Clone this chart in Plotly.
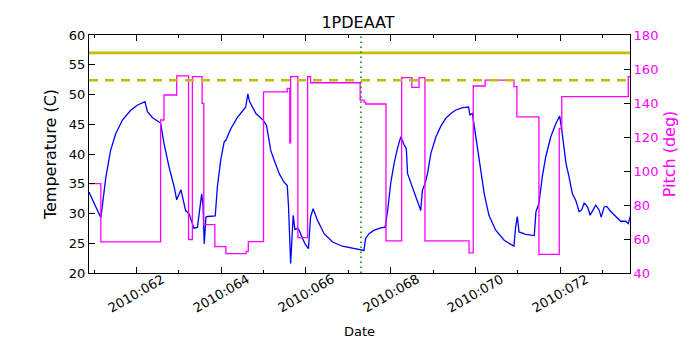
#!/usr/bin/env python3
"""Recreate the 1PDEAAT temperature / pitch time plot."""

import plotly.graph_objects as go

# day of year 2010 (fractional) and temperature (C)
temp_days = [
    60.88, 61.00, 61.16, 61.28, 61.39, 61.51, 61.67, 61.87, 62.02, 62.20,
    62.26, 62.38, 62.57, 62.65, 62.77, 62.89, 62.95, 63.05, 63.10, 63.16,
    63.24, 63.31, 63.36, 63.44, 63.48, 63.54, 63.57, 63.60, 63.64, 63.68,
    63.86, 63.91, 63.99, 64.07, 64.11, 64.23, 64.38, 64.54, 64.58, 64.63,
    64.67, 64.82, 64.99, 65.07, 65.17, 65.25, 65.37, 65.48, 65.56, 65.59,
    65.64, 65.70, 65.74, 65.80, 65.84, 65.92, 65.98, 66.06, 66.11, 66.17,
    66.27, 66.43, 66.63, 66.86, 67.30, 67.37, 67.41, 67.49, 67.61, 67.77,
    67.87, 67.93, 68.00, 68.08, 68.16, 68.24, 68.32, 68.37, 68.40, 68.48,
    68.59, 68.71, 68.75, 68.81, 68.87, 68.95, 69.07, 69.18, 69.30, 69.42,
    69.54, 69.70, 69.84, 69.87, 69.93, 69.99, 70.05, 70.13, 70.21, 70.32,
    70.48, 70.68, 70.91, 70.95, 70.99, 71.03, 71.19, 71.39, 71.43, 71.50,
    71.58, 71.66, 71.78, 71.90, 71.99, 72.04, 72.14, 72.21, 72.29, 72.37,
    72.45, 72.51, 72.57, 72.65, 72.71, 72.78, 72.84, 72.92, 72.97, 73.04,
    73.10, 73.20, 73.32, 73.43, 73.55, 73.61, 73.67,
]
temperature = [
    33.6, 31.7, 29.3, 36.2, 40.6, 43.4, 45.7, 47.4, 48.2, 48.8,
    47.1, 46.1, 45.2, 41.8, 37.8, 34.5, 32.3, 34.0, 32.2, 30.5,
    30.0, 28.3, 27.5, 27.7, 30.1, 33.3, 31.5, 24.9, 29.4, 29.5,
    29.6, 34.5, 39.0, 42.0, 42.3, 44.3, 46.1, 47.5, 47.9, 50.1,
    48.8, 46.8, 45.7, 44.8, 40.6, 39.0, 36.7, 35.3, 34.7, 31.1,
    21.6, 29.7, 27.3, 27.5, 27.2, 25.8, 24.9, 24.1, 29.4, 30.8,
    28.9, 26.6, 25.2, 24.5, 24.0, 23.8, 25.8, 26.6, 27.2, 27.6,
    27.7, 30.5, 35.0, 38.4, 40.9, 42.9, 41.5, 40.9, 36.7, 35.0,
    32.8, 30.5, 33.9, 35.0, 36.7, 40.1, 42.9, 44.6, 46.0, 46.8,
    47.4, 47.8, 47.9, 46.6, 46.8, 44.0, 40.6, 36.7, 33.3, 29.7,
    27.2, 25.5, 24.5, 27.7, 29.5, 26.9, 26.5, 26.3, 30.3, 31.7,
    36.2, 39.5, 42.9, 45.1, 46.4, 44.0, 38.4, 36.2, 33.3, 32.2,
    30.3, 30.6, 31.8, 31.1, 29.7, 30.6, 31.4, 30.6, 29.4, 31.1,
    31.2, 30.3, 29.4, 28.7, 28.7, 28.3, 29.9,
]

# pitch (deg), held until the next change
pitch_days = [
    60.88, 61.16, 62.57, 62.65, 62.95, 63.23, 63.32, 63.55, 63.59, 63.85,
    64.11, 64.59, 64.64, 65.00, 65.56, 65.62, 65.64, 65.81, 66.04, 66.11,
    67.28, 67.37, 67.41, 67.89, 68.26, 68.50, 68.67, 68.81, 69.85, 69.95,
    70.23, 70.91, 70.98, 71.50, 71.98, 72.04, 73.61, 73.67,
]
pitch = [
    92.6, 58.3, 130.0, 144.7, 155.9, 59.7, 155.5, 139.8, 68.5, 55.5,
    51.4, 52.7, 58.5, 146.6, 148.6, 116.6, 155.5, 60.8, 155.5, 151.9,
    141.7, 140.5, 139.4, 58.9, 154.9, 149.2, 154.9, 58.9, 51.8, 150.0,
    153.5, 149.6, 131.8, 51.0, 125.0, 143.7, 155.5, 155.5,
]

tick_days = [62, 64, 66, 68, 70, 72]
tick_labels = ["2010:062", "2010:064", "2010:066", "2010:068", "2010:070", "2010:072"]

limit_solid = 57.0
limit_dashed = 52.4
marker_day = 67.30

FONT = "DejaVu Sans"
OLIVE = "#bfbf00"
MAGENTA = "#ff00ff"

fig = go.Figure()
fig.add_trace(
    go.Scatter(
        x=temp_days, y=temperature, mode="lines",
        line={"color": "#0000ff", "width": 1.3}, showlegend=False,
    )
)
fig.add_trace(
    go.Scatter(
        x=pitch_days, y=pitch, mode="lines", yaxis="y2",
        line={"color": MAGENTA, "width": 1.3, "shape": "hv"}, showlegend=False,
    )
)

fig.add_shape(type="line", xref="paper", yref="y", x0=0, x1=1,
              y0=limit_solid, y1=limit_solid, line={"color": OLIVE, "width": 2.6})
fig.add_shape(type="line", xref="paper", yref="y", x0=0, x1=1,
              y0=limit_dashed, y1=limit_dashed,
              line={"color": OLIVE, "width": 2.6, "dash": "9px,7px"})
fig.add_shape(type="line", xref="x", yref="paper", x0=marker_day, x1=marker_day,
              y0=0, y1=1, line={"color": "#008000", "width": 1.5, "dash": "1.5px,3.5px"})

# rotated date labels centred under their ticks, matplotlib style
for day, label in zip(tick_days, tick_labels):
    fig.add_annotation(
        x=day, xref="x", y=-0.085, yref="paper", text=label, textangle=-30,
        showarrow=False, xanchor="center", yanchor="middle",
        font={"family": FONT, "size": 13, "color": "black"},
    )
fig.add_annotation(
    x=0.5, xref="paper", y=-0.245, yref="paper", text="Date", showarrow=False,
    xanchor="center", yanchor="middle", font={"family": FONT, "size": 13, "color": "black"},
)

# the page body adds 8px offset, so margins are shifted accordingly
fig.update_layout(
    width=700,
    height=350,
    margin={"l": 81, "r": 78, "t": 27, "b": 85, "autoexpand": False},
    paper_bgcolor="white",
    plot_bgcolor="white",
    font={"family": FONT, "size": 13, "color": "black"},
    title={"text": "1PDEAAT", "x": 0.5, "xanchor": "center", "y": 0.96,
           "yanchor": "middle", "font": {"size": 16}},
    xaxis={
        "range": [60.88, 73.65],
        "tickvals": tick_days,
        "showticklabels": False,
        "ticks": "inside",
        "ticklen": 6,
        "tickcolor": "black",
        "minor": {"ticks": "inside", "ticklen": 3, "dtick": 1, "tick0": 61,
                  "tickcolor": "black"},
        "showgrid": False,
        "zeroline": False,
        "showline": True,
        "linecolor": "black",
        "linewidth": 1,
        "mirror": "ticks",
        "automargin": False,
    },
    yaxis={
        "range": [20, 60],
        "dtick": 5,
        "ticks": "inside",
        "ticklen": 6,
        "tickcolor": "black",
        "showgrid": False,
        "zeroline": False,
        "showline": True,
        "linecolor": "black",
        "linewidth": 1,
        "automargin": False,
        "title": {"text": "Temperature (C)", "standoff": 8},
    },
    yaxis2={
        "range": [40, 180],
        "dtick": 20,
        "overlaying": "y",
        "side": "right",
        "ticks": "inside",
        "ticklen": 6,
        "tickcolor": "black",
        "tickfont": {"color": MAGENTA},
        "showgrid": False,
        "zeroline": False,
        "showline": True,
        "linecolor": "black",
        "linewidth": 1,
        "automargin": False,
        "title": {"text": "Pitch (deg)", "font": {"color": MAGENTA}, "standoff": 6},
    },
)

fig.write_html("out.html")
